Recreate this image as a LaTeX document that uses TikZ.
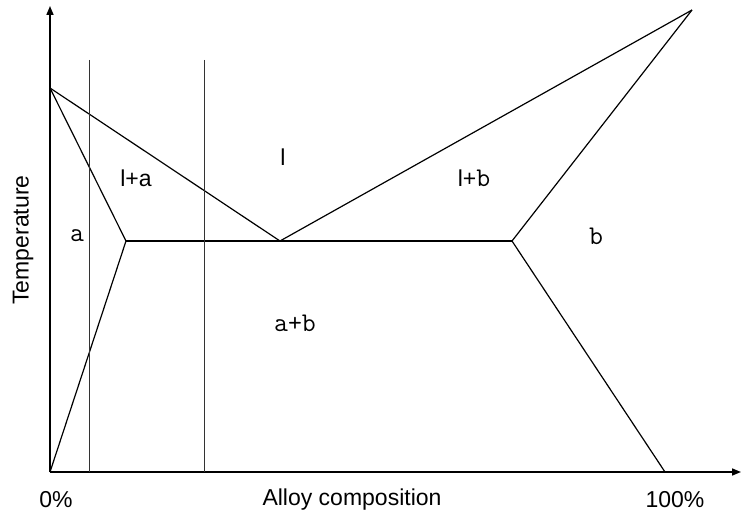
\documentclass[tikz,border=0pt]{standalone}
\usepackage{fontspec}
\setmainfont{Liberation Sans}
\usetikzlibrary{arrows.meta, positioning}

\newcommand{\monolbl}{\ttfamily\fontsize{27}{30}\selectfont}

\begin{document}
\begin{tikzpicture}[x=1pt, y=-1pt,
  font=\fontsize{23}{26}\selectfont,
  axis/.style={line width=1.6pt, -{Triangle[length=9pt, width=7pt]}},
  phase/.style={line width=1.2pt},
  cut/.style={line width=1pt, black!80},
  lbl/.style={inner sep=0pt},
  mono/.style={inner sep=0pt, font=\monolbl}]
  \useasboundingbox (0,0) rectangle (741,519);
  % corner points of the diagram
  \coordinate (O) at (50,472);
  \coordinate (ymax) at (50,6);
  \coordinate (xmax) at (741,472);
  \coordinate (meltA) at (50,88);
  \coordinate (meltB) at (692,10);
  \coordinate (eut) at (280,241);
  \coordinate (solA) at (126,241);
  \coordinate (solB) at (512,241);
  \coordinate (endB) at (665,472);
  \coordinate (cutA) at (89,60);
  \coordinate (cutB) at (204,60);
  % axes
  \draw[axis] (O) -- (ymax);
  \draw[axis] (O) -- (xmax);
  % phase boundaries
  \draw[phase] (meltA) -- (eut) -- (meltB);
  \draw[phase] (meltA) -- (solA) -- (O);
  \draw[phase] (meltB) -- (solB) -- (endB);
  \draw[phase] (solA) -- (solB);
  % composition cuts
  \draw[cut] (cutA) -- (cutA |- O);
  \draw[cut] (cutB) -- (cutB |- O);
  % region labels
  \node[lbl] (liq) at (283,157) {l};
  \node[lbl] (liqA) at (136,178) {l+a};
  \node[lbl] (liqB) at (474,178) {l+{\monolbl b}};
  \node[mono] (alpha) at (77,236) {a};
  \node[mono] (beta) at (596,236) {b};
  \node[mono] (alphabeta) at (295,323) {a+b};
  % axis labels
  \node[lbl, rotate=90] (temp) at (23,240) {Temperature};
  \node[lbl] (zero) at (56,500) {0\%};
  \node[lbl] (comp) at (352,500) {Alloy composition};
  \node[lbl] (full) at (675,500) {100\%};
\end{tikzpicture}
\end{document}
